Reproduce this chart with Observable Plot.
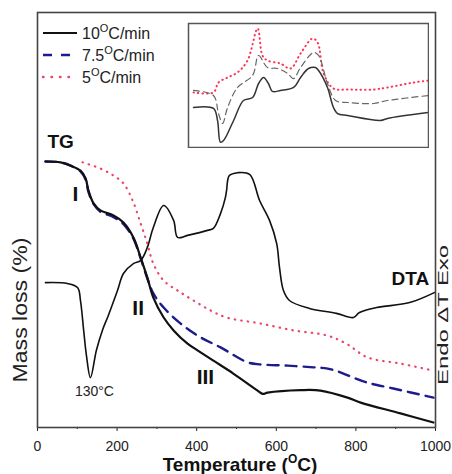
<!DOCTYPE html>
<html><head><meta charset="utf-8">
<script src="https://cdn.jsdelivr.net/npm/d3@7"></script>
<script src="https://cdn.jsdelivr.net/npm/@observablehq/plot@0.6"></script>
<style>
body{margin:0;background:#fff;}
#wrap{position:relative;width:452px;height:474px;overflow:hidden;}
</style></head><body><div id="wrap"></div>
<script>
// ---- data (temperature in °C, signal in arbitrary units 0-100) ----
const xTicks = [0, 200, 400, 600, 800, 1000];
const xMinorTicks = [100, 300, 500, 700, 900];

const tg10T = [20,58,83,108,121,128,141,158,191,216,241,259,276,291,317,342,377,402,442,492,553,566,578,661,711,779,812,912,995];
const tg10V = [64.1,63.9,63.1,61.9,60.0,57.1,54.0,52.3,51.1,49.4,45.8,41.0,36.1,31.3,26.5,23.4,20.2,18.6,16.1,13.0,8.9,8.1,8.4,9.0,8.9,7.2,6.0,3.4,1.2];

const tg75T = [20,58,83,108,121,128,141,158,191,216,241,259,276,291,317,359,410,460,528,560,628,693,729,761,794,829,894,995];
const tg75V = [64.1,63.9,63.1,61.7,59.7,56.8,53.8,52.0,50.7,49.0,45.5,40.8,35.9,32.3,28.9,25.1,21.7,19.3,15.7,15.2,14.9,14.5,14.2,13.3,12.0,10.8,9.4,7.2];

const tg5T = [113,158,191,216,239,259,276,291,317,352,392,435,475,558,643,726,776,829,912,995];
const tg5V = [63.9,62.4,60.7,58.8,54.7,49.2,44.3,39.5,35.4,33.0,30.6,28.2,26.5,25.1,23.4,22.2,20.2,16.9,15.4,13.7];

const dtaT = [20,75,101,108,116,123,133,148,163,178,201,216,241,259,276,291,317,342,352,377,427,442,460,472,475,482,503,533,558,583,601,608,618,633,683,751,794,809,852,935,997];
const dtaV = [34.9,34.7,33.7,30.6,23.4,17.3,12.0,18.6,23.4,27.0,33.0,37.1,39.5,40.2,43.4,48.2,53.5,49.9,45.8,46.3,47.5,48.0,51.6,55.4,57.1,60.7,61.4,61.0,54.7,49.9,44.3,38.6,33.0,30.6,28.7,27.5,26.5,27.7,28.9,30.1,32.5];

// inset: DTA curves at the three heating rates
const inT10 = [21,104,121,133,146,188,229,267,292,313,333,350,383,438,467,500,529,542,579,604,621,663,800,829,1000];
const inV10 = [32.3,31.5,21.8,4.3,5.6,21.8,37.9,40.3,51.6,56.5,51.6,45.2,46.0,48.4,56.5,63.7,64.5,62.1,48.4,32.3,27.4,25.8,21.8,23.4,28.2];
const inT75 = [21,104,125,142,163,204,267,292,329,371,413,438,467,521,542,579,613,663,771,829,1000];
const inV75 = [46.0,41.9,27.4,19.4,32.3,48.4,58.1,74.2,64.5,63.7,59.7,55.6,64.5,76.6,74.2,51.6,37.9,36.3,35.5,37.9,41.9];
const inT5 = [21,104,125,163,204,246,288,308,329,383,425,467,517,538,563,604,663,771,829,938,1000];
const inV5 = [44.4,44.4,52.4,56.5,60.5,70.2,96.0,74.2,70.2,67.7,63.7,75.8,87.9,84.7,59.7,47.6,46.8,46.8,48.4,52.4,54.0];

const seriesNames = ["10", "7.5", "5"];

// ---- drawing ----
const FONT = '"Liberation Sans", Arial, Helvetica, sans-serif';
const rows = (T, V) => T.map((t, i) => ({t, v: V[i]}));
const C10 = "#111", C75 = "#1c1c8c", C5 = "#ec4466";

const main = Plot.plot({
  width: 452, height: 474,
  marginTop: 12, marginRight: 17, marginBottom: 47, marginLeft: 37,
  style: {fontFamily: FONT, background: "transparent", color: "#222"},
  x: {domain: [0, 1000]},
  y: {domain: [0, 100], axis: null},
  marks: [
    Plot.axisX({ticks: xTicks, tickSize: 4, tickPadding: 10, fontSize: 14, label: null, tickFormat: d => String(d)}),
    Plot.axisX({ticks: xMinorTicks, tickSize: 2, tickFormat: () => "", label: null}),
    Plot.line(rows(dtaT, dtaV), {x: "t", y: "v", stroke: "#111", strokeWidth: 1.6, curve: "catmull-rom"}),
    Plot.line(rows(tg5T, tg5V), {x: "t", y: "v", stroke: C5, strokeWidth: 2.2, strokeDasharray: "0.5,6", strokeLinecap: "round", curve: "catmull-rom"}),
    Plot.line(rows(tg75T, tg75V), {x: "t", y: "v", stroke: C75, strokeWidth: 2.4, strokeDasharray: "11,7", curve: "catmull-rom"}),
    Plot.line(rows(tg10T, tg10V), {x: "t", y: "v", stroke: C10, strokeWidth: 2.2, curve: "catmull-rom"}),
    Plot.frame({stroke: "#444", strokeWidth: 1.6}),
    Plot.text([{t: 58, v: 68.8}], {x: "t", y: "v", text: () => "TG", fontSize: 19, fontWeight: "bold", fill: "#111"}),
    Plot.text([{t: 937, v: 35.8}], {x: "t", y: "v", text: () => "DTA", fontSize: 19, fontWeight: "bold", fill: "#111"}),
    Plot.text([{t: 95, v: 56.3}], {x: "t", y: "v", text: () => "I", fontSize: 21, fontWeight: "bold", fill: "#111"}),
    Plot.text([{t: 253, v: 28.8}], {x: "t", y: "v", text: () => "II", fontSize: 21, fontWeight: "bold", fill: "#111"}),
    Plot.text([{t: 422, v: 12.0}], {x: "t", y: "v", text: () => "III", fontSize: 21, fontWeight: "bold", fill: "#111"}),
    Plot.text([{t: 143, v: 8.6}], {x: "t", y: "v", text: () => "130°C", fontSize: 14, fill: "#222"})
  ]
});
document.getElementById("wrap").appendChild(main);

const svg = d3.select(main);
// axis titles
const title = svg.append("text").attr("x", 240).attr("y", 471).attr("text-anchor", "middle")
  .attr("font-family", FONT).attr("font-size", 19).attr("font-weight", "bold").attr("fill", "#111");
title.append("tspan").text("Temperature (");
title.append("tspan").attr("font-size", 12).attr("dy", -8).text("O");
title.append("tspan").attr("dy", 8).text("C)");

svg.append("text").attr("transform", "translate(27,310) rotate(-90)").attr("text-anchor", "middle")
  .attr("font-family", FONT).attr("font-size", 20).attr("fill", "#222")
  .attr("textLength", 145).attr("lengthAdjust", "spacingAndGlyphs").text("Mass loss (%)");
svg.append("text").attr("transform", "translate(447.5,315) rotate(-90)").attr("text-anchor", "middle")
  .attr("font-family", FONT).attr("font-size", 15).attr("fill", "#222")
  .attr("textLength", 140).attr("lengthAdjust", "spacingAndGlyphs").text("Endo \u0394T Exo");

// legend
const legStyles = [
  {stroke: C10, dash: null, width: 2.2, x2: 77},
  {stroke: C75, dash: "9,9", width: 2.4, x2: 70},
  {stroke: C5, dash: "0.5,8", width: 2.4, x2: 76}
];
seriesNames.forEach((name, i) => {
  const yb = 39 + i * 22;
  const s = legStyles[i];
  svg.append("line").attr("x1", 43).attr("x2", s.x2).attr("y1", yb - 6).attr("y2", yb - 6)
    .attr("stroke", s.stroke).attr("stroke-width", s.width)
    .attr("stroke-dasharray", s.dash).attr("stroke-linecap", s.dash && s.dash.startsWith("0.5") ? "round" : "butt");
  const t = svg.append("text").attr("x", 82).attr("y", yb).attr("text-anchor", "start")
    .attr("font-family", FONT).attr("font-size", 16).attr("fill", "#222");
  t.append("tspan").text(name);
  t.append("tspan").attr("font-size", 11).attr("dy", -7).text("O");
  t.append("tspan").attr("dy", 7).text("C/min");
});

// inset
const inset = Plot.plot({
  width: 242, height: 126, margin: 1,
  style: {background: "white"},
  x: {domain: [0, 1000], axis: null},
  y: {domain: [0, 100], axis: null},
  marks: [
    Plot.line(rows(inT5, inV5), {x: "t", y: "v", stroke: "#ff3355", strokeWidth: 2, strokeDasharray: "0.5,4", strokeLinecap: "round", curve: "catmull-rom", clip: true}),
    Plot.line(rows(inT75, inV75), {x: "t", y: "v", stroke: "#666", strokeWidth: 1.2, strokeDasharray: "6,4", curve: "catmull-rom", clip: true}),
    Plot.line(rows(inT10, inV10), {x: "t", y: "v", stroke: "#333", strokeWidth: 1.5, curve: "catmull-rom", clip: true}),
    Plot.frame({stroke: "#555", strokeWidth: 1.5})
  ]
});
inset.style.position = "absolute";
inset.style.left = "187px";
inset.style.top = "22px";
document.getElementById("wrap").appendChild(inset);
</script></body></html>
